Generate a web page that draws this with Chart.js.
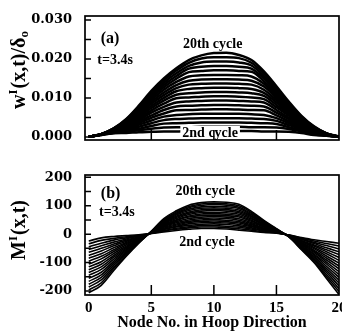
<!DOCTYPE html>
<html>
<head>
<meta charset="utf-8">
<script src="https://cdn.jsdelivr.net/npm/chart.js@4.4.0/dist/chart.umd.min.js"></script>
<style>
  html, body { margin: 0; padding: 0; background: #fff; }
  #wrap { position: relative; width: 342px; height: 332px; overflow: hidden; }
  canvas { position: absolute; left: 0; }
  #panelA { top: 0; }
  #panelB { top: 166px; }
</style>
</head>
<body>
<div id="wrap">
  <canvas id="panelA" width="342" height="166" style="width:342px;height:166px"></canvas>
  <canvas id="panelB" width="342" height="166" style="width:342px;height:166px"></canvas>
</div>
<script>
// node numbers along the hoop
const nodes = [0,1,2,3,4,5,6,7,8,9,10,11,12,13,14,15,16,17,18,19,20];
// one curve per cycle, 2nd ... 20th
const cycles = [2,3,4,5,6,7,8,9,10,11,12,13,14,15,16,17,18,19,20];

// (a) w^I(x,t)/delta_0, values x 1e-4
const wE4 = [
  [0,5,9,10,12,13,14,14,15,15,15,15,15,15,14,14,13,10,5,3,0],
  [0,5,10,13,17,21,24,25,25,26,26,26,26,25,25,24,20,14,7,3,0],
  [0,6,11,16,21,28,34,35,36,37,37,37,37,36,35,33,25,17,8,4,0],
  [0,6,12,18,26,35,43,46,47,48,48,48,48,47,46,41,30,20,10,4,0],
  [0,6,13,20,31,42,52,56,58,59,59,59,59,58,56,48,35,23,11,4,0],
  [0,6,14,23,35,49,60,68,69,70,71,71,70,69,68,55,40,25,13,5,0],
  [0,6,14,25,39,55,69,78,80,81,82,82,81,80,78,62,45,28,14,5,0],
  [0,6,15,27,43,62,77,88,91,92,93,93,92,91,88,69,49,31,15,6,0],
  [0,6,16,29,47,68,85,99,101,103,104,104,103,101,97,76,54,33,17,6,0],
  [0,6,17,31,51,74,93,108,112,114,115,115,114,112,105,82,58,36,18,6,0],
  [0,6,17,33,55,79,100,117,123,125,126,126,125,123,113,88,62,38,19,7,0],
  [0,7,18,35,59,85,107,125,134,136,137,137,136,134,121,94,66,40,20,7,0],
  [0,7,19,37,62,90,114,133,144,147,148,148,147,144,129,100,70,43,21,7,0],
  [0,7,19,38,65,95,121,141,155,158,159,159,158,155,136,106,74,45,22,8,0],
  [0,7,20,40,68,100,127,149,166,169,171,171,169,167,143,111,77,47,23,8,0],
  [0,7,21,42,72,105,133,156,175,180,182,182,180,175,150,116,81,49,24,8,0],
  [0,7,21,43,75,110,139,163,182,191,193,193,191,183,156,121,84,51,25,9,0],
  [0,7,22,45,77,114,145,170,190,201,204,204,202,190,162,126,87,52,26,9,0],
  [0,7,22,46,80,118,150,176,197,209,215,216,210,197,168,130,90,54,27,9,1]
];

// (b) M^I(x,t)
const mVals = [
  [-24,-13,-8,-5,-2,2,8,13,17,20,20,18,14,10,6,3,-3,-12,-20,-26,-32],
  [-34,-22,-15,-9,-4,2,11,17,22,25,25,23,19,14,8,4,-3,-14,-24,-33,-42],
  [-44,-32,-21,-13,-5,3,13,21,26,30,30,28,24,18,11,5,-4,-17,-29,-40,-52],
  [-54,-41,-28,-17,-7,3,16,25,31,35,36,34,29,22,13,6,-4,-19,-33,-48,-62],
  [-64,-50,-35,-21,-9,4,18,28,36,40,41,39,34,26,15,7,-5,-22,-38,-55,-72],
  [-75,-59,-41,-25,-10,4,21,32,41,45,46,44,39,29,18,7,-5,-24,-42,-62,-82],
  [-85,-69,-48,-29,-12,5,24,36,45,50,51,49,44,33,20,8,-5,-26,-47,-69,-92],
  [-95,-78,-55,-33,-14,5,26,40,50,55,57,55,49,37,22,9,-6,-29,-51,-77,-102],
  [-105,-87,-61,-37,-15,6,29,44,55,60,62,60,54,41,25,10,-6,-31,-56,-84,-112],
  [-115,-97,-68,-42,-17,6,32,48,60,66,67,65,60,45,27,11,-7,-34,-60,-91,-122],
  [-125,-106,-75,-46,-19,6,34,51,64,71,72,70,65,49,29,12,-7,-36,-64,-98,-132],
  [-135,-115,-81,-50,-20,7,37,55,69,76,77,75,70,53,32,13,-7,-38,-69,-105,-142],
  [-145,-124,-88,-54,-22,7,39,59,74,81,83,81,75,57,34,14,-8,-41,-73,-113,-152],
  [-155,-134,-95,-58,-24,8,42,63,78,86,88,86,80,61,36,15,-8,-43,-78,-120,-162],
  [-166,-143,-101,-62,-25,8,45,67,83,91,93,91,85,64,39,15,-8,-45,-82,-127,-172],
  [-176,-152,-108,-66,-27,9,47,71,88,96,98,96,90,68,41,16,-9,-48,-87,-134,-182],
  [-186,-161,-115,-70,-29,9,50,74,93,101,104,102,95,72,43,17,-9,-50,-91,-142,-192],
  [-196,-171,-121,-74,-30,10,52,78,97,106,109,107,100,76,46,18,-10,-53,-96,-149,-202],
  [-206,-180,-128,-78,-32,10,55,82,102,111,114,112,105,80,48,19,-10,-55,-100,-156,-212]
];

// tick values
const xTicks = [0, 5, 10, 15, 20];
const xMarks = [5, 10, 15];
const wTicks = [0, 0.01, 0.02, 0.03];
const wMarks = [0, 0.005, 0.01, 0.015, 0.02, 0.025, 0.03];
const mTicks = [-200, -100, 0, 100, 200];
const mMarks = [-200, -150, -100, -50, 0, 50, 100, 150, 200];

const SERIF = "'Liberation Serif', 'Times New Roman', serif";
const NUMFONT = "'DejaVu Serif', serif";

function drawRich(ctx, parts, cx, cy) {
  ctx.save();
  ctx.translate(cx, cy);
  ctx.rotate(-Math.PI / 2);
  ctx.textAlign = 'left';
  ctx.textBaseline = 'alphabetic';
  let total = 0;
  parts.forEach(p => { ctx.font = p.font; total += ctx.measureText(p.t).width + (p.gap || 0); });
  let xx = -total / 2;
  parts.forEach(p => {
    ctx.font = p.font;
    ctx.fillText(p.t, xx, p.dy);
    xx += ctx.measureText(p.t).width + (p.gap || 0);
  });
  ctx.restore();
}

const panelDecor = {
  id: 'panelDecor',
  afterDraw(chart, args, opts) {
    const { ctx, chartArea: a } = chart;
    const x = chart.scales.x, y = chart.scales.y;
    ctx.save();
    ctx.fillStyle = '#000';
    ctx.strokeStyle = '#000';

    // notes inside the plot
    opts.notes.forEach(n => {
      ctx.font = n.font;
      ctx.textAlign = 'center';
      ctx.textBaseline = 'middle';
      const px = x.getPixelForValue(n.x), py = y.getPixelForValue(n.y);
      if (n.bg) {
        const w = ctx.measureText(n.text).width;
        ctx.fillStyle = '#fff';
        ctx.fillRect(px - w / 2 - 2, py - 7, w + 4, 13);
        ctx.fillStyle = '#000';
      }
      ctx.fillText(n.text, px, py);
    });

    // frame
    ctx.lineWidth = 1.7;
    ctx.strokeRect(a.left, a.top, a.right - a.left, a.bottom - a.top);

    // inward tick marks
    ctx.lineWidth = 1.5;
    ctx.beginPath();
    opts.yMarks.forEach(v => {
      const py = y.getPixelForValue(v);
      ctx.moveTo(a.left, py); ctx.lineTo(a.left + 6, py);
    });
    opts.xMarks.forEach(v => {
      const px = x.getPixelForValue(v);
      ctx.moveTo(px, a.bottom); ctx.lineTo(px, a.bottom - 10);
    });
    ctx.stroke();

    // y title with super/subscripts
    drawRich(ctx, opts.yTitle, 22, opts.yTitleY);
    ctx.restore();
  }
};

function buildPanel(id, rows, scaleDiv, o) {
  const datasets = rows.map((r, k) => ({
    label: cycles[k] + ' cycle',
    data: nodes.map((n, i) => ({ x: n, y: r[i] / scaleDiv })),
    borderColor: '#000',
    borderWidth: o.lw,
    pointRadius: 0,
    fill: false,
    cubicInterpolationMode: 'monotone'
  }));
  return new Chart(document.getElementById(id), {
    type: 'line',
    data: { datasets },
    plugins: [panelDecor],
    options: {
      responsive: false,
      animation: false,
      devicePixelRatio: 1,
      layout: { padding: o.padding },
      plugins: {
        legend: { display: false },
        tooltip: { enabled: false },
        panelDecor: o.decor
      },
      scales: {
        x: {
          type: 'linear',
          min: -0.3,
          max: 20,
          display: o.showX,
          afterFit: s => { s.height = o.xHeight; s.paddingLeft = 0; s.paddingRight = 0; },
          afterBuildTicks: s => { s.ticks = xTicks.map(v => ({ value: v })); },
          grid: { display: false, drawTicks: false },
          border: { display: false },
          ticks: {
            color: '#000',
            padding: 4,
            maxRotation: 0,
            font: { family: SERIF, weight: 'bold', size: 15 }
          },
          title: {
            display: true,
            text: 'Node No. in Hoop Direction',
            color: '#000',
            padding: { top: 0, bottom: 0 },
            font: { family: SERIF, weight: 'bold', size: 16 }
          }
        },
        y: {
          type: 'linear',
          min: o.yMin,
          max: o.yMax,
          afterFit: s => { s.width = 85; s.paddingTop = 0; s.paddingBottom = 0; },
          afterBuildTicks: s => { s.ticks = o.yTicks.map(v => ({ value: v })); },
          grid: { display: false, drawTicks: false },
          border: { display: false },
          ticks: {
            color: '#000',
            padding: 13,
            font: { family: NUMFONT, weight: 'bold', size: 13 },
            callback: o.fmt
          }
        }
      }
    }
  });
}

const mainA = 'bold 20px ' + SERIF, supA = 'bold 13px ' + SERIF;

buildPanel('panelA', wE4, 1e4, {
  lw: 2.5,
  padding: { top: 16, right: 3, bottom: 26, left: 0 },
  showX: false,
  xHeight: 0,
  yMin: -0.0008,
  yMax: 0.031,
  yTicks: wTicks,
  fmt: v => v.toFixed(3),
  decor: {
    yMarks: wMarks,
    xMarks: xMarks,
    yTitleY: 70,
    yTitle: [
      { t: 'w', font: mainA, dy: 3 },
      { t: 'I', font: supA, dy: -5, gap: 1 },
      { t: '(x,t)/\u03b4', font: mainA, dy: 3 },
      { t: 'o', font: supA, dy: 6 }
    ],
    notes: [
      { text: '(a)', x: 1.7, y: 0.0251, font: 'bold 16px ' + SERIF },
      { text: 't=3.4s', x: 2.1, y: 0.0197, font: 'bold 14px ' + SERIF },
      { text: '20th cycle', x: 9.9, y: 0.0236, font: 'bold 14px ' + SERIF },
      { text: '2nd cycle', x: 9.7, y: 0.001, font: 'bold 14px ' + SERIF, bg: true }
    ]
  }
});

buildPanel('panelB', mVals, 1, {
  lw: 1.6,
  padding: { top: 9, right: 3, bottom: 0, left: 0 },
  showX: true,
  xHeight: 37,
  yMin: -214,
  yMax: 208,
  yTicks: mTicks,
  fmt: v => String(v),
  decor: {
    yMarks: mMarks,
    xMarks: xMarks,
    yTitleY: 64,
    yTitle: [
      { t: 'M', font: mainA, dy: 3 },
      { t: 'I', font: supA, dy: -5, gap: 1 },
      { t: '(x,t)', font: mainA, dy: 3 }
    ],
    notes: [
      { text: '(b)', x: 1.75, y: 141, font: 'bold 16px ' + SERIF },
      { text: 't=3.4s', x: 2.25, y: 75, font: 'bold 14px ' + SERIF },
      { text: '20th cycle', x: 9.3, y: 152, font: 'bold 14px ' + SERIF },
      { text: '2nd cycle', x: 9.45, y: -28, font: 'bold 14px ' + SERIF }
    ]
  }
});
</script>
</body>
</html>
